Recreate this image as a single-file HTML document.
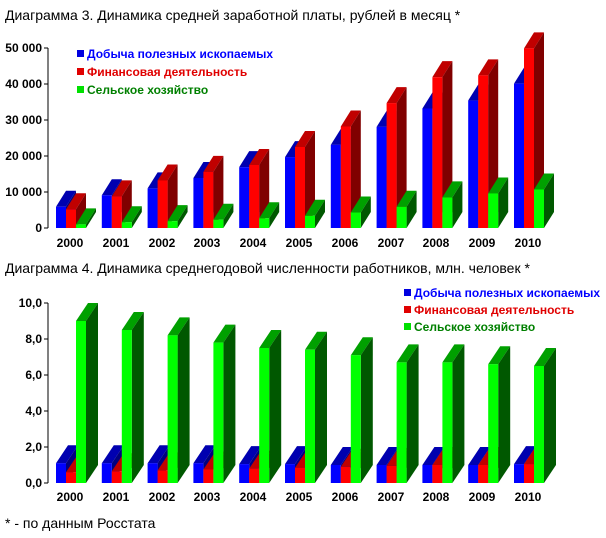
<!DOCTYPE html>
<html><head><meta charset="utf-8"><style>
body{margin:0;background:#fff;}
svg{display:block;font-family:"Liberation Sans",sans-serif;}
.t{font-size:14px;fill:#000}
.tk{font-size:12px;font-weight:bold;text-anchor:end;fill:#000}
.yr{font-size:12px;font-weight:bold;text-anchor:middle;fill:#000}
.lg{font-size:12px;font-weight:bold}
</style></head><body>
<svg id="s" width="606" height="538" viewBox="0 0 606 538">
<text class="t" x="5" y="20">Диаграмма 3. Динамика средней заработной платы, рублей в месяц *</text>
<text class="t" x="5" y="273">Диаграмма 4. Динамика среднегодовой численности работников, млн. человек *</text>
<text class="t" x="5" y="528">* - по данным Росстата</text>
<g id="c1"></g><g id="c2"></g>
<line x1="48" y1="48" x2="48" y2="228" stroke="#000"/>
<line x1="48" y1="303" x2="48" y2="483" stroke="#000"/>
<g stroke="#000">
<line x1="44" y1="48" x2="48" y2="48"/><line x1="44" y1="84" x2="48" y2="84"/><line x1="44" y1="120" x2="48" y2="120"/><line x1="44" y1="156" x2="48" y2="156"/><line x1="44" y1="192" x2="48" y2="192"/><line x1="44" y1="228" x2="48" y2="228"/>
<line x1="44" y1="303" x2="48" y2="303"/><line x1="44" y1="339" x2="48" y2="339"/><line x1="44" y1="375" x2="48" y2="375"/><line x1="44" y1="411" x2="48" y2="411"/><line x1="44" y1="447" x2="48" y2="447"/><line x1="44" y1="483" x2="48" y2="483"/>
</g>
<text class="tk" x="42" y="52">50 000</text><text class="tk" x="42" y="88">40 000</text><text class="tk" x="42" y="124">30 000</text><text class="tk" x="42" y="160">20 000</text><text class="tk" x="42" y="196">10 000</text><text class="tk" x="42" y="232">0</text>
<text class="tk" x="42" y="307">10,0</text><text class="tk" x="42" y="343">8,0</text><text class="tk" x="42" y="379">6,0</text><text class="tk" x="42" y="415">4,0</text><text class="tk" x="42" y="451">2,0</text><text class="tk" x="42" y="487">0,0</text>
<g class="yr">
<text class="yr" x="70" y="247">2000</text><text class="yr" x="116" y="247">2001</text><text class="yr" x="162" y="247">2002</text><text class="yr" x="207" y="247">2003</text><text class="yr" x="253" y="247">2004</text><text class="yr" x="299" y="247">2005</text><text class="yr" x="345" y="247">2006</text><text class="yr" x="391" y="247">2007</text><text class="yr" x="436" y="247">2008</text><text class="yr" x="482" y="247">2009</text><text class="yr" x="528" y="247">2010</text>
<text class="yr" x="70" y="501">2000</text><text class="yr" x="116" y="501">2001</text><text class="yr" x="162" y="501">2002</text><text class="yr" x="207" y="501">2003</text><text class="yr" x="253" y="501">2004</text><text class="yr" x="299" y="501">2005</text><text class="yr" x="345" y="501">2006</text><text class="yr" x="391" y="501">2007</text><text class="yr" x="436" y="501">2008</text><text class="yr" x="482" y="501">2009</text><text class="yr" x="528" y="501">2010</text>
</g>
<rect x="77" y="50" width="7" height="7" fill="#0000e0"/><text class="lg" x="87" y="58" fill="#0000ff">Добыча полезных ископаемых</text>
<rect x="77" y="68" width="7" height="7" fill="#e00000"/><text class="lg" x="87" y="76" fill="#e00000">Финансовая деятельность</text>
<rect x="77" y="86" width="7" height="7" fill="#00e000"/><text class="lg" x="87" y="94" fill="#008000">Сельское хозяйство</text>
<rect x="404" y="289" width="7" height="7" fill="#0000e0"/><text class="lg" x="414" y="297" fill="#0000ff">Добыча полезных ископаемых</text>
<rect x="404" y="306" width="7" height="7" fill="#e00000"/><text class="lg" x="414" y="314" fill="#e00000">Финансовая деятельность</text>
<rect x="404" y="323" width="7" height="7" fill="#00e000"/><text class="lg" x="414" y="331" fill="#008000">Сельское хозяйство</text>
</svg>
<script>
var C=[["#0000ff","#0000b0","#000080"],["#ff0000","#c00000","#800000"],["#00ff00","#00a000","#005800"]];
function draw(id,y0,scale,data,dx,dy){
 var g=document.getElementById(id),h="";
 for(var i=0;i<11;i++){
  var gx=56+i*45.8;
  for(var s=0;s<3;s++){
   var x=gx+s*10,w=10,v=data[s][i],top=y0-v*scale,c=C[s];
   h+='<polygon fill="'+c[1]+'" points="'+x+','+top+' '+(x+dx)+','+(top+dy)+' '+(x+w+dx)+','+(top+dy)+' '+(x+w)+','+top+'"/>';
   h+='<polygon fill="'+c[2]+'" points="'+(x+w)+','+top+' '+(x+w+dx)+','+(top+dy)+' '+(x+w+dx)+','+(y0+dy)+' '+(x+w)+','+y0+'"/>';
   h+='<rect fill="'+c[0]+'" x="'+x+'" y="'+top+'" width="'+w+'" height="'+(y0-top)+'"/>';
  }
 }
 g.innerHTML=h;
}
draw("c1",228,3.6,[[5.9,9.1,11.0,13.9,16.9,19.7,23.1,28.1,33.2,35.4,40.1],[5.2,8.8,13.2,15.6,17.5,22.5,28.2,34.7,41.9,42.4,49.9],[1.0,1.6,1.9,2.3,2.7,3.4,4.3,5.9,8.5,9.6,10.7]],10,-16);
draw("c2",483,18,[[1.1,1.1,1.1,1.1,1.05,1.05,1.0,1.0,1.0,1.0,1.05],[0.6,0.65,0.7,0.75,0.8,0.85,0.9,0.95,1.0,1.0,1.05],[9.0,8.5,8.2,7.8,7.5,7.4,7.1,6.7,6.7,6.6,6.5]],12,-18);
</script>
</body></html>
